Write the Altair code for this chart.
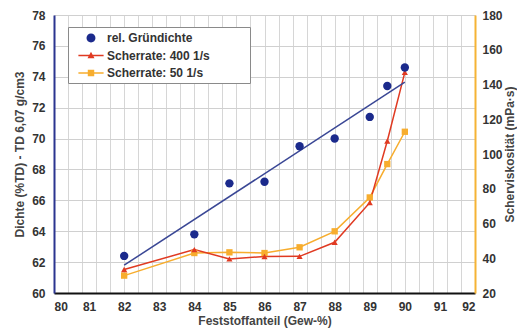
import altair as alt
import pandas as pd

# ---- data ----
feststoff = [82, 84, 85, 86, 87, 88, 89, 89.5, 90]
dichte = [62.4, 63.8, 67.1, 67.2, 69.5, 70.0, 71.4, 73.4, 74.6]
visk_400 = [33.5, 45.0, 39.6, 41.0, 41.1, 49.2, 72.0, 107.5, 147.0]
visk_50 = [30.0, 43.0, 43.4, 43.0, 46.3, 55.5, 75.0, 94.2, 112.8]
trend_x = [82, 90]
trend_y = [61.8, 73.65]
series = ["rel. Gründichte", "Scherrate: 400 1/s", "Scherrate: 50 1/s"]
x_ticks = list(range(80, 93))
left_ticks = list(range(60, 79, 2))
right_ticks = list(range(20, 181, 20))

# ---- styles ----
colors = ["#1b2a8c", "#e03a22", "#f7ad2e"]
legend_shapes = [
    "M0.64,0A0.64,0.64 0 1,1 -0.64,0A0.64,0.64 0 1,1 0.64,0Z",
    "M-1.8,-0.1L1.8,-0.1L1.8,0.1L-1.8,0.1ZM0,-0.55L0.5,0.4L-0.5,0.4Z",
    "M-1.8,-0.1L1.8,-0.1L1.8,0.1L-1.8,0.1ZM-0.46,-0.46L0.46,-0.46L0.46,0.46L-0.46,0.46Z",
]
FONT = "Liberation Sans"
FS = 12
PAD = "\u2800" * 4

df_dichte = pd.DataFrame({"x": feststoff, "y": dichte, "serie": series[0]})
df_400 = pd.DataFrame({"x": feststoff, "y": visk_400, "serie": series[1]})
df_50 = pd.DataFrame({"x": feststoff, "y": visk_50, "serie": series[2]})
df_trend = pd.DataFrame({"x": trend_x, "y": trend_y})

legend = alt.Legend(
    title=None, orient="none", legendX=14, legendY=12,
    fillColor="white", strokeColor="#8a8a8a", padding=4,
    symbolSize=196, symbolOffset=12, labelOffset=9, rowPadding=4.5,
    symbolOpacity=1, symbolStrokeWidth=0, labelLimit=300,
    labelFont=FONT, labelFontSize=FS, labelFontWeight="bold", labelColor="#333333",
    labelExpr=f"datum.label + '{PAD}'",
)
color_enc = alt.Color("serie:N", scale=alt.Scale(domain=series, range=colors), legend=legend)
shape_enc = alt.Shape("serie:N", scale=alt.Scale(domain=series, range=legend_shapes), legend=legend)

lab = dict(labelFont=FONT, labelFontSize=FS, labelFontWeight="bold", labelColor="#333333",
           titleFont=FONT, titleFontSize=FS, titleFontWeight="bold", titleColor="#444444")

x_bottom = alt.X("x:Q", scale=alt.Scale(domain=[80, 92], nice=False),
                 axis=alt.Axis(orient="bottom", values=x_ticks, grid=False, ticks=False,
                               domainColor="#111111", domainWidth=2, labelPadding=8,
                               titlePadding=3, title="Feststoffanteil (Gew-%)", **lab))
x_top = alt.X("x:Q", scale=alt.Scale(domain=[80, 92], nice=False),
              axis=alt.Axis(orient="top", values=[80 + 0.4 * i for i in range(31)],
                            grid=True, gridColor="#d6d6d6", gridWidth=1,
                            labels=False, ticks=False, domain=False, title=None))

y_left = alt.Y("y:Q", scale=alt.Scale(domain=[60, 78], nice=False, zero=False),
               axis=alt.Axis(orient="left", values=left_ticks, grid=True, gridColor="#d0d0d0",
                             ticks=False, domainColor="#2b3590", domainWidth=2, labelPadding=9,
                             titlePadding=5, title="Dichte (%TD) - TD 6,07 g/cm3", **lab))
y_right = alt.Y("y:Q", scale=alt.Scale(domain=[20, 180], nice=False, zero=False),
                axis=alt.Axis(orient="right", values=right_ticks, grid=False, ticks=False,
                              domainColor="#f5b335", domainWidth=2, labelPadding=7,
                              titlePadding=2, titleAngle=270, titleBaseline="top",
                              title="Scherviskosität (mPa·s)", **lab))

# legend-only layer (no marks drawn)
legend_layer = alt.Chart(df_dichte).transform_filter("false").mark_point(
    filled=True, opacity=1, size=196).encode(x=x_bottom, y=y_left, color=color_enc, shape=shape_enc)

trend = alt.Chart(df_trend).mark_line(color="#3a4795", strokeWidth=1.5).encode(x=x_bottom, y=y_left)
dots = alt.Chart(df_dichte).mark_point(filled=True, opacity=1, size=70, shape="circle",
                                       color=colors[0]).encode(x=x_bottom, y=y_left)
left = alt.layer(trend, dots, legend_layer)

line400 = alt.Chart(df_400).mark_line(strokeWidth=1.5, color=colors[1]).encode(x=x_top, y=y_right)
pts400 = alt.Chart(df_400).mark_point(filled=True, opacity=1, size=38, shape="triangle-up",
                                      color=colors[1]).encode(x=x_top, y=y_right)
line50 = alt.Chart(df_50).mark_line(strokeWidth=1.5, color=colors[2]).encode(x=x_top, y=y_right)
pts50 = alt.Chart(df_50).mark_point(filled=True, opacity=1, size=40, shape="square",
                                    color=colors[2]).encode(x=x_top, y=y_right)
right = alt.layer(line50, line400, pts50, pts400)

chart = alt.layer(right, left).resolve_scale(y="independent").resolve_axis(
    x="independent", y="independent"
).properties(
    width=421, height=278,
    padding={"left": 46, "top": 7, "right": 42, "bottom": 35},
    autosize=alt.AutoSizeParams(type="none"),
).configure_view(stroke=None).configure(font=FONT)

chart.save("out.html", embed_options={"renderer": "svg", "actions": False})
